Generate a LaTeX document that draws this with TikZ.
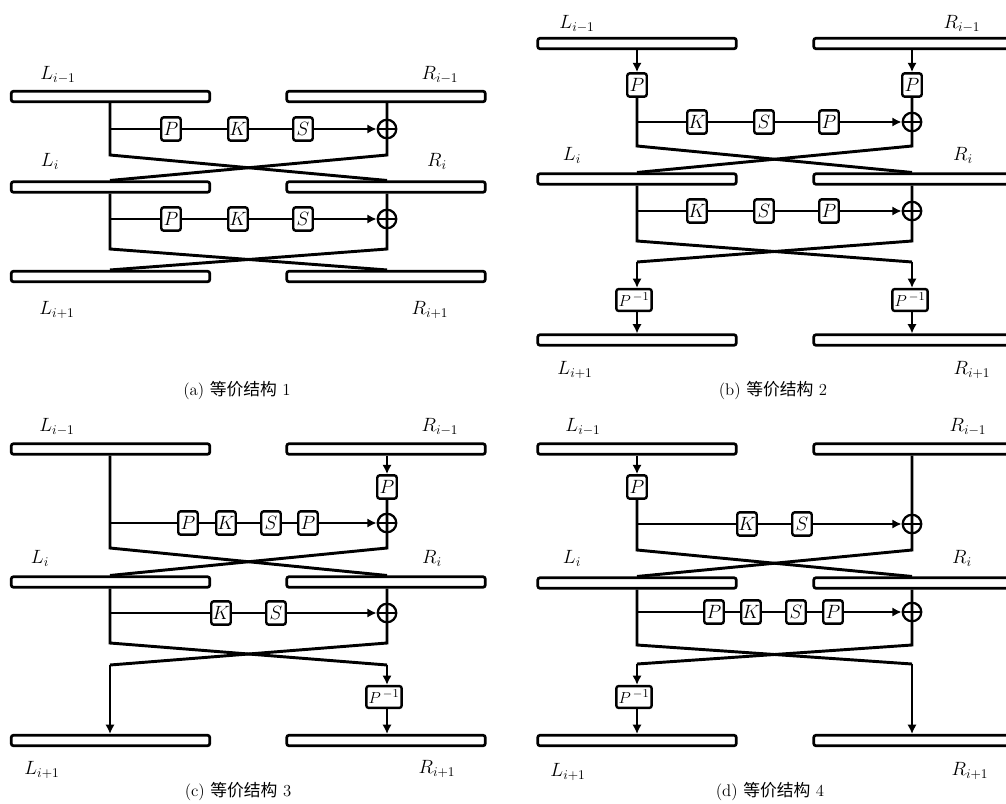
\documentclass[tikz,border=0pt]{standalone}
\usepackage{amsmath}
\usepackage{fontspec}
\newfontfamily\cjk{Noto Sans CJK SC}
\usetikzlibrary{arrows.meta}
\tikzset{
  bar/.style={draw, line width=2pt, rounded corners=1.5pt, fill=white, minimum width=148.8pt, minimum height=7.8pt, inner sep=0pt},
  fbox/.style={draw, line width=1.8pt, rounded corners=1.8pt, fill=white, minimum width=14.6pt, minimum height=17.5pt, inner sep=0.5pt, font=\fontsize{15}{15}\selectfont},
  pinv/.style={fbox, minimum width=26.5pt, minimum height=16.4pt, inner sep=0pt, font=\fontsize{13}{13}\selectfont},
  xorn/.style={circle, draw, line width=1.7pt, minimum size=13.9pt, inner sep=0pt},
  vline/.style={line width=2.2pt},
  hline/.style={line width=1.5pt},
  xline/.style={line width=1.7pt},
  arr/.style={-{Latex[length=7pt,width=7pt]}},
  lab/.style={font=\fontsize{14}{14}\selectfont, inner sep=0pt},
  capt/.style={font=\fontsize{12.6}{14}\selectfont, inner sep=0pt}
}
\begin{document}
\begin{tikzpicture}[x=0.75pt,y=-0.75pt]
\useasboundingbox (0,0) rectangle (1006,803);
\clip (0,0) rectangle (1006,803);

% ================= panel (a) =================
\node[bar] (aL1) at (110.5,96.5) {};
\node[bar] (aR1) at (386,96.5) {};
\node[bar] (aL2) at (110.5,187) {};
\node[bar] (aR2) at (386,187) {};
\node[bar] (aL3) at (110.5,276.5) {};
\node[bar] (aR3) at (386,276.5) {};
\node[lab] (aTL1) at (58,75) {$L_{i-1}$};
\node[lab] (aTR1) at (440,75) {$R_{i-1}$};
\node[lab] (aTL2) at (50,161) {$L_{i}$};
\node[lab] (aTR2) at (437,161) {$R_{i}$};
\node[lab] (aTL3) at (57,310) {$L_{i+1}$};
\node[lab] (aTR3) at (430,310) {$R_{i+1}$};
\node[capt] (acap) at (237,391) {(a) {\cjk 等价结构} 1};
\coordinate (alc1) at (110,155); \coordinate (arc1) at (387,155);
\coordinate (alj1) at (110,129);
\node[fbox] (ap1) at (171,129) {$P$};
\node[fbox] (ak1) at (238,129) {$K$};
\node[fbox] (as1) at (303,129) {$S$};
\node[xorn] (ax1) at (387,129) {};
\draw[vline] (aL1.south -| alc1) -- (alc1) -- (aR2.north -| arc1);
\draw[vline] (aR1.south -| arc1) -- (arc1) -- (aL2.north -| alc1);
\draw[hline] (alj1) -- (ap1) -- (ak1) -- (as1);
\draw[hline,arr] (as1) -- (ax1);
\draw[xline] (ax1.west) -- (ax1.east);
\coordinate (alc2) at (110,249); \coordinate (arc2) at (387,249);
\coordinate (alj2) at (110,219);
\node[fbox] (ap2) at (171,219) {$P$};
\node[fbox] (ak2) at (238,219) {$K$};
\node[fbox] (as2) at (303,219) {$S$};
\node[xorn] (ax2) at (387,219) {};
\draw[vline] (aL2.south -| alc2) -- (alc2) -- (aR3.north -| arc2);
\draw[vline] (aR2.south -| arc2) -- (arc2) -- (aL3.north -| alc2);
\draw[hline] (alj2) -- (ap2) -- (ak2) -- (as2);
\draw[hline,arr] (as2) -- (ax2);
\draw[xline] (ax2.west) -- (ax2.east);

% ================= panel (b) =================
\node[bar] (bL1) at (637,43.5) {};
\node[bar] (bR1) at (913,43.5) {};
\node[bar] (bL2) at (637,179) {};
\node[bar] (bR2) at (913,179) {};
\node[bar] (bL3) at (637,340) {};
\node[bar] (bR3) at (913,340) {};
\node[lab] (bTL1) at (577,24) {$L_{i-1}$};
\node[lab] (bTR1) at (962,24) {$R_{i-1}$};
\node[lab] (bTL2) at (572,155) {$L_{i}$};
\node[lab] (bTR2) at (963,155) {$R_{i}$};
\node[lab] (bTL3) at (575,370) {$L_{i+1}$};
\node[lab] (bTR3) at (972,370) {$R_{i+1}$};
\node[capt] (bcap) at (773,391) {(b) {\cjk 等价结构} 2};
\node[fbox] (bpl) at (637,85) {$P$};
\node[fbox] (bpr) at (912,85) {$P$};
\draw[vline,arr] (bL1.south -| bpl) -- (bpl);
\draw[vline,arr] (bR1.south -| bpr) -- (bpr);
\coordinate (blc1) at (637,146); \coordinate (brc1) at (912,146);
\coordinate (blj1) at (637,122);
\node[fbox] (bk1) at (697,122) {$K$};
\node[fbox] (bs1) at (764,122) {$S$};
\node[fbox] (bp1) at (829,122) {$P$};
\node[xorn] (bx1) at (912,122) {};
\draw[vline] (bpl) -- (blc1) -- (bR2.north -| brc1);
\draw[vline] (bpr) -- (brc1) -- (bL2.north -| blc1);
\draw[hline] (blj1) -- (bk1) -- (bs1) -- (bp1);
\draw[hline,arr] (bp1) -- (bx1);
\draw[xline] (bx1.west) -- (bx1.east);
\coordinate (blc2) at (637,241); \coordinate (brc2) at (912,241);
\coordinate (blj2) at (637,211);
\coordinate (bld) at (637,262); \coordinate (brd) at (912,262);
\node[fbox] (bk2) at (697,211) {$K$};
\node[fbox] (bs2) at (764,211) {$S$};
\node[fbox] (bp2) at (829,211) {$P$};
\node[xorn] (bx2) at (912,211) {};
\draw[vline] (bL2.south -| blc2) -- (blc2) -- (brd);
\draw[vline] (bR2.south -| brc2) -- (brc2) -- (bld);
\draw[hline] (blj2) -- (bk2) -- (bs2) -- (bp2);
\draw[hline,arr] (bp2) -- (bx2);
\draw[xline] (bx2.west) -- (bx2.east);
\node[pinv] (bql) at (634,300) {$P^{\,-1}$};
\node[pinv] (bqr) at (910,300) {$P^{\,-1}$};
\draw[vline,arr] (bld) -- (bql.north -| bld);
\draw[vline,arr] (brd) -- (bqr.north -| brd);
\draw[vline,arr] (bql.south -| bld) -- (bL3.north -| bld);
\draw[vline,arr] (bqr.south -| brd) -- (bR3.north -| brd);

% ================= panel (c) =================
\node[bar] (cL1) at (110.5,449) {};
\node[bar] (cR1) at (386,449) {};
\node[bar] (cL2) at (110.5,582) {};
\node[bar] (cR2) at (386,582) {};
\node[bar] (cL3) at (110.5,740.5) {};
\node[bar] (cR3) at (386,740.5) {};
\node[lab] (cTL1) at (57,427) {$L_{i-1}$};
\node[lab] (cTR1) at (440,427) {$R_{i-1}$};
\node[lab] (cTL2) at (40,558) {$L_{i}$};
\node[lab] (cTR2) at (432,558) {$R_{i}$};
\node[lab] (cTL3) at (42,770) {$L_{i+1}$};
\node[lab] (cTR3) at (437,769) {$R_{i+1}$};
\node[capt] (ccap) at (238,791) {(c) {\cjk 等价结构} 3};
\node[fbox] (cpr) at (387,487) {$P$};
\draw[vline,arr] (cR1.south -| cpr) -- (cpr);
\coordinate (clc1) at (110,548); \coordinate (crc1) at (387,548);
\coordinate (clj1) at (110,523);
\node[fbox] (cp1) at (188,523) {$P$};
\node[fbox] (ck1) at (226,523) {$K$};
\node[fbox] (cs1) at (271,523) {$S$};
\node[fbox] (cq1) at (308,523) {$P$};
\node[xorn] (cx1) at (387,523) {};
\draw[vline] (cL1.south -| clc1) -- (clc1) -- (cR2.north -| crc1);
\draw[vline] (cpr) -- (crc1) -- (cL2.north -| clc1);
\draw[hline] (clj1) -- (cp1) -- (ck1) -- (cs1) -- (cq1);
\draw[hline,arr] (cq1) -- (cx1);
\draw[xline] (cx1.west) -- (cx1.east);
\coordinate (clc2) at (110,643); \coordinate (crc2) at (387,643);
\coordinate (clj2) at (110,613);
\coordinate (cld) at (110,665); \coordinate (crd) at (387,665);
\node[fbox] (ck2) at (221,613) {$K$};
\node[fbox] (cs2) at (276,613) {$S$};
\node[xorn] (cx2) at (387,613) {};
\draw[vline] (cL2.south -| clc2) -- (clc2) -- (crd);
\draw[vline] (cR2.south -| crc2) -- (crc2) -- (cld);
\draw[hline] (clj2) -- (ck2) -- (cs2);
\draw[hline,arr] (cs2) -- (cx2);
\draw[xline] (cx2.west) -- (cx2.east);
\node[pinv] (cqr) at (384,697) {$P^{\,-1}$};
\draw[vline,arr] (cld) -- (cL3.north -| cld);
\draw[vline,arr] (crd) -- (cqr.north -| crd);
\draw[vline,arr] (cqr.south -| crd) -- (cR3.north -| crd);

% ================= panel (d) =================
\node[bar] (dL1) at (637,449) {};
\node[bar] (dR1) at (913,449) {};
\node[bar] (dL2) at (637,583) {};
\node[bar] (dR2) at (913,583) {};
\node[bar] (dL3) at (637,740.5) {};
\node[bar] (dR3) at (913,740.5) {};
\node[lab] (dTL1) at (583,427) {$L_{i-1}$};
\node[lab] (dTR1) at (968,427) {$R_{i-1}$};
\node[lab] (dTL2) at (572,558) {$L_{i}$};
\node[lab] (dTR2) at (962,558) {$R_{i}$};
\node[lab] (dTL3) at (568,772) {$L_{i+1}$};
\node[lab] (dTR3) at (970,771) {$R_{i+1}$};
\node[capt] (dcap) at (770,791) {(d) {\cjk 等价结构} 4};
\node[fbox] (dpl) at (637,487) {$P$};
\draw[vline,arr] (dL1.south -| dpl) -- (dpl);
\coordinate (dlc1) at (637,550); \coordinate (drc1) at (912,550);
\coordinate (dlj1) at (637,524);
\node[fbox] (dk1) at (747,524) {$K$};
\node[fbox] (ds1) at (802,524) {$S$};
\node[xorn] (dx1) at (912,524) {};
\draw[vline] (dpl) -- (dlc1) -- (dR2.north -| drc1);
\draw[vline] (dR1.south -| drc1) -- (drc1) -- (dL2.north -| dlc1);
\draw[hline] (dlj1) -- (dk1) -- (ds1);
\draw[hline,arr] (ds1) -- (dx1);
\draw[xline] (dx1.west) -- (dx1.east);
\coordinate (dlc2) at (637,645); \coordinate (drc2) at (912,645);
\coordinate (dlj2) at (637,612);
\coordinate (dld) at (637,664); \coordinate (drd) at (912,664);
\node[fbox] (dp2) at (714,612) {$P$};
\node[fbox] (dk2) at (751,612) {$K$};
\node[fbox] (ds2) at (796,612) {$S$};
\node[fbox] (dq2) at (833,612) {$P$};
\node[xorn] (dx2) at (912,612) {};
\draw[vline] (dL2.south -| dlc2) -- (dlc2) -- (drd);
\draw[vline] (dR2.south -| drc2) -- (drc2) -- (dld);
\draw[hline] (dlj2) -- (dp2) -- (dk2) -- (ds2) -- (dq2);
\draw[hline,arr] (dq2) -- (dx2);
\draw[xline] (dx2.west) -- (dx2.east);
\node[pinv] (dql) at (634,697) {$P^{\,-1}$};
\draw[vline,arr] (dld) -- (dql.north -| dld);
\draw[vline,arr] (dql.south -| dld) -- (dL3.north -| dld);
\draw[vline,arr] (drd) -- (dR3.north -| drd);
\end{tikzpicture}
\end{document}
